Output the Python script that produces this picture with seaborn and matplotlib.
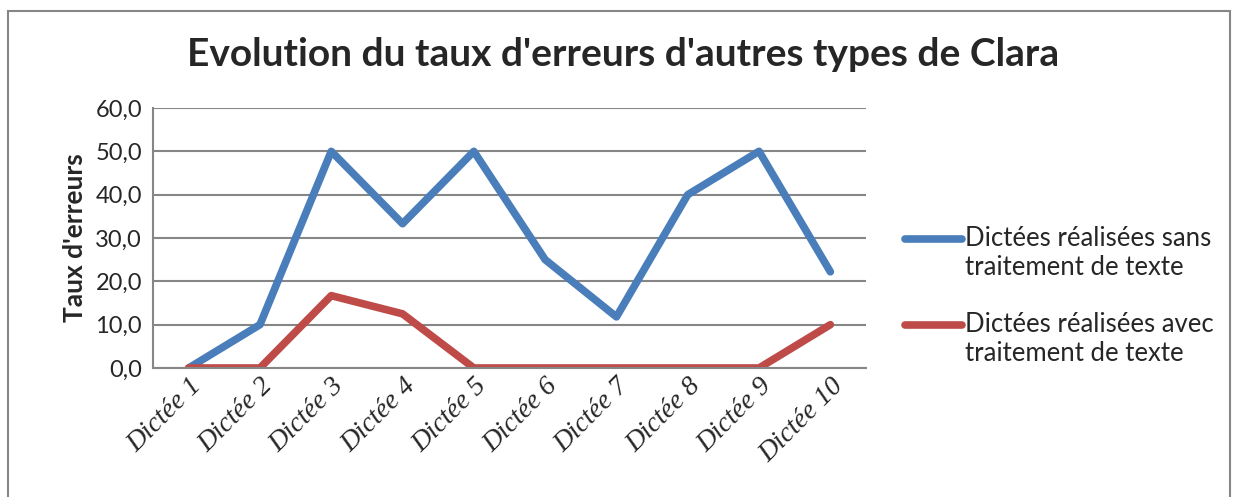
import matplotlib
matplotlib.use("Agg")
import matplotlib.pyplot as plt
import seaborn as sns
import pandas as pd
from matplotlib.patches import Rectangle
from matplotlib.ticker import FuncFormatter

categories = ["Dictée 1", "Dictée 2", "Dictée 3", "Dictée 4", "Dictée 5",
              "Dictée 6", "Dictée 7", "Dictée 8", "Dictée 9", "Dictée 10"]
sans_tt = [0.0, 10.0, 50.0, 33.3, 50.0, 25.0, 11.8, 40.0, 50.0, 22.2]
avec_tt = [0.0, 0.0, 16.7, 12.5, 0.0, 0.0, 0.0, 0.0, 0.0, 10.0]
series_names = ["Dictées réalisées sans\ntraitement de texte",
                "Dictées réalisées avec\ntraitement de texte"]
title = "Evolution du taux d'erreurs d'autres types de Clara"
ylabel = "Taux d'erreurs"

df = pd.DataFrame({
    "cat": categories * 2,
    "x": list(range(len(categories))) * 2,
    "val": sans_tt + avec_tt,
    "serie": [series_names[0]] * len(categories) + [series_names[1]] * len(categories),
})

sns.set_theme(style="white")
plt.rcParams['font.family'] = ['Lato', 'DejaVu Sans']

fig = plt.figure(figsize=(12.37, 4.97), dpi=100)
ax = fig.add_axes([153/1237, 1 - 368/497, (866-153)/1237, (368-108)/497])

palette = {series_names[0]: "#4A7EBB", series_names[1]: "#BE4B48"}
sns.lineplot(data=df, x="x", y="val", hue="serie", palette=palette, ax=ax,
             linewidth=5.5, legend=True, solid_capstyle="round", solid_joinstyle="round")

ax.set_xlim(-0.5, len(categories) - 0.5)
ax.set_ylim(0, 60)
ax.set_yticks([0, 10, 20, 30, 40, 50, 60])
ax.yaxis.set_major_formatter(FuncFormatter(lambda v, p: f"{v:.1f}".replace(".", ",")))
ax.set_xticks(range(len(categories)))
ax.set_xticklabels(categories, rotation=45, ha="right", rotation_mode="anchor",
                   family="Liberation Serif", style="italic", fontsize=20)
ax.tick_params(axis="y", labelsize=17, length=0, pad=8)
ax.tick_params(axis="x", length=0, pad=4)
ax.grid(axis="y", color="#868686", linewidth=1.5)
ax.set_axisbelow(True)
for s in ["top", "right"]:
    ax.spines[s].set_visible(False)
for s in ["left", "bottom"]:
    ax.spines[s].set_color("#868686")
    ax.spines[s].set_linewidth(1.5)
ax.set_xlabel("")
ax.set_ylabel(ylabel, fontsize=19, fontweight="bold", labelpad=6)

leg = ax.legend(loc="center left", bbox_to_anchor=(905/1237, 1 - 296/497),
                bbox_transform=fig.transFigure, frameon=False, fontsize=18.5,
                handlelength=2.2, handletextpad=0.15, labelspacing=1.25,
                borderpad=0, borderaxespad=0)
for line in leg.get_lines():
    line.set_linewidth(5.5)
    line.set_solid_capstyle("round")
    yd = line.get_ydata()
    line.set_ydata([y + 11 for y in yd])

fig.text(623/1237, 1 - 55/497, title, ha="center", va="center",
         fontsize=28, fontweight="bold")

fig.patches.append(Rectangle((8/1237, -0.05), (1230-8)/1237, 1.05 - 11/497,
                             transform=fig.transFigure, fill=False,
                             edgecolor="#868686", linewidth=1.5))

fig.savefig("out.png", dpi=100)
